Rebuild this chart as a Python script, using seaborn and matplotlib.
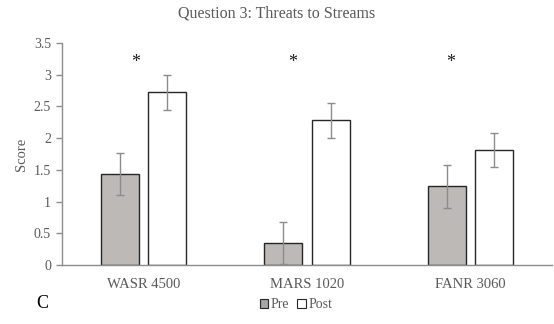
import matplotlib
matplotlib.use("Agg")
import matplotlib.pyplot as plt
import numpy as np
import pandas as pd
import seaborn as sns

courses = ["WASR 4500", "MARS 1020", "FANR 3060"]
phases = ["Pre", "Post"]
pre_scores = [1.43, 0.35, 1.24]
post_scores = [2.72, 2.28, 1.81]
pre_err = [0.33, 0.33, 0.34]
post_err = [0.27, 0.27, 0.27]
significant = [True, True, True]

sns.set_theme(style="white")
plt.rcParams["font.family"] = ["Liberation Serif", "DejaVu Serif"]

grey_text = "#595959"
df = pd.DataFrame({
    "course": courses * 2,
    "phase": ["Pre"] * 3 + ["Post"] * 3,
    "score": pre_scores + post_scores,
})

fig = plt.figure(figsize=(5.54, 3.24), dpi=100)
ax = fig.add_axes([62 / 554, 1 - 265 / 324, (552 - 62) / 554, (265 - 43) / 324])

sns.barplot(
    data=df, x="course", y="score", hue="phase", order=courses, hue_order=phases,
    palette={"Pre": "#bdb9b6", "Post": "#ffffff"}, width=0.58, gap=0.2,
    errorbar=None, edgecolor="#262626", linewidth=1.0, legend=False, ax=ax,
)

# error bars centred on each bar
for container, err in zip(ax.containers, [pre_err, post_err]):
    xs = [p.get_x() + p.get_width() / 2 for p in container.patches]
    ys = [p.get_height() for p in container.patches]
    ax.errorbar(xs, ys, yerr=err, fmt="none", ecolor="#8c8c8c", elinewidth=1.0,
                capsize=3, capthick=1.0, zorder=5)

# significance markers (hand-placed a little left of each group centre)
for i, sig in enumerate(significant):
    if sig:
        ax.text(i - 0.05 - 0.035 * i, 3.2, "*", ha="center", va="center",
                fontsize=13, color="#1a1a1a")

ax.set_xlim(-0.5, 2.5)
ax.set_ylim(0, 3.5)
ax.set_yticks(np.arange(0, 3.51, 0.5))
ax.set_yticklabels(["0", "0.5", "1", "1.5", "2", "2.5", "3", "3.5"])
ax.set_xlabel("")
ax.set_ylabel("Score", fontsize=10.5, color=grey_text)
ax.tick_params(axis="y", colors=grey_text, labelsize=10, length=4, width=1,
               direction="out", left=True, pad=4)
ax.tick_params(axis="y", color="#8c8c8c")
ax.tick_params(axis="x", colors=grey_text, labelsize=10.5, length=0, pad=9)
for s in ["top", "right"]:
    ax.spines[s].set_visible(False)
for s in ["left", "bottom"]:
    ax.spines[s].set_color("#8c8c8c")
    ax.spines[s].set_linewidth(1.0)

fig.text(0.5, 1 - 14 / 324, "Question 3: Threats to Streams", ha="center",
         va="center", fontsize=11.5, color=grey_text)
fig.text(42 / 554, 1 - 303 / 324, "C", ha="center", va="center", fontsize=13,
         color="#000000")

handles = [
    plt.Rectangle((0, 0), 1, 1, facecolor="#a6a6a6", edgecolor="#262626", linewidth=0.8),
    plt.Rectangle((0, 0), 1, 1, facecolor="#ffffff", edgecolor="#262626", linewidth=0.8),
]
fig.legend(handles, phases, loc="center", bbox_to_anchor=(296 / 554, 1 - 305 / 324),
           ncol=2, frameon=False, handlelength=0.6, handleheight=0.6,
           handletextpad=0.2, columnspacing=0.6, fontsize=10,
           labelcolor=grey_text)

fig.savefig("out.png", dpi=100)
